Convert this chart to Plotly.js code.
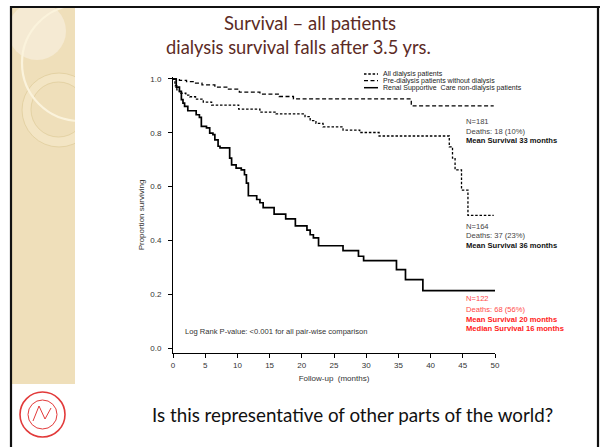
<!DOCTYPE html>
<html>
<head>
<meta charset="utf-8">
<script src="https://cdn.plot.ly/plotly-3.0.1.min.js"></script>
<style>
html,body{margin:0;padding:0;background:#fff;}
#chart{width:600px;height:447px;}
</style>
</head>
<body>
<div id="chart"></div>
<script>
// ---- data (Kaplan–Meier step curves) ----
const seriesNames = ["All dialysis patients", "Pre-dialysis patients without dialysis", "Renal Supportive  Care non-dialysis patients"];

// All dialysis patients (short dashes)
const tAll = [0, 0.3, 0.6, 1.0, 2.0, 2.6, 3.5, 4.7, 6.0, 10.2, 13.5, 16.0, 20.5, 21.3, 22.2, 23.3, 26.4, 29.0, 32.0, 42.9, 43.4, 43.8, 44.8, 45.8, 49.8];
const sAll = [1.0, 0.975, 0.96, 0.947, 0.94, 0.934, 0.925, 0.914, 0.903, 0.888, 0.877, 0.87, 0.86, 0.845, 0.835, 0.822, 0.81, 0.801, 0.788, 0.748, 0.706, 0.662, 0.587, 0.493, 0.493];

// Pre-dialysis patients without dialysis (long dashes)
const tPre = [0, 1.0, 2.1, 3.5, 4.5, 6.5, 8.5, 10.3, 13.5, 16.5, 18.7, 37.0, 49.8];
const sPre = [1.0, 0.995, 0.99, 0.985, 0.978, 0.97, 0.962, 0.951, 0.944, 0.935, 0.926, 0.9, 0.9];

// Renal Supportive Care non-dialysis patients (solid)
const tRsc = [0, 0.5, 1.0, 1.3, 1.55, 1.8, 2.3, 3.6, 4.1, 4.4, 5.2, 5.7, 6.2, 6.5, 7.0, 7.3, 8.8, 9.1, 9.8, 10.6, 11.1, 11.4, 11.7, 13.0, 13.5, 14.0, 15.7, 17.5, 19.0, 20.8, 21.3, 21.8, 22.6, 26.4, 28.8, 29.6, 34.7, 36.1, 38.8, 50.0];
const sRsc = [1.0, 0.97, 0.954, 0.923, 0.91, 0.898, 0.882, 0.867, 0.857, 0.824, 0.818, 0.799, 0.793, 0.774, 0.75, 0.744, 0.706, 0.681, 0.669, 0.662, 0.644, 0.613, 0.566, 0.552, 0.54, 0.522, 0.498, 0.48, 0.454, 0.438, 0.421, 0.409, 0.38, 0.362, 0.341, 0.325, 0.291, 0.254, 0.213, 0.213];

const xTicks = [0, 5, 10, 15, 20, 25, 30, 35, 40, 45, 50];
const yTicks = [0.0, 0.2, 0.4, 0.6, 0.8, 1.0];
const yTickText = ["0.0", "0.2", "0.4", "0.6", "0.8", "1.0"];

const groupNotes = [
  ["N=181", "Deaths: 18 (10%)", "<b>Mean Survival 33 months</b>"],
  ["N=164", "Deaths: 37 (23%)", "<b>Mean Survival 36 months</b>"],
  ["N=122", "Deaths: 68 (56%)", "<b>Mean Survival 20 months</b>", "<b>Median Survival 16 months</b>"]
];
const logRankText = "Log Rank P-value: <0.001 for all pair-wise comparison";
const titleLines = ["Survival \u2013 all patients", "dialysis survival falls after 3.5 yrs."];
const footerText = "Is this representative of other parts of the world?";

// ---- layout helpers (pixel -> paper) ----
const W = 600, H = 447;
const M = {l: 173, r: 105, t: 77, b: 94};
const PW = W - M.l - M.r, PH = H - M.t - M.b;
const X = px => (px - M.l) / PW;
const Y = py => (H - M.b - py) / PH;

const FONT = "Liberation Sans, Arial, sans-serif";

const traces = [
  {x: tPre, y: sPre, name: seriesNames[1], type: "scatter", mode: "lines",
   line: {shape: "hv", color: "#000", width: 1.3, dash: "4px,2.5px"}, showlegend: false},
  {x: tAll, y: sAll, name: seriesNames[0], type: "scatter", mode: "lines",
   line: {shape: "hv", color: "#000", width: 1.3, dash: "2.5px,1.8px"}, showlegend: false},
  {x: tRsc, y: sRsc, name: seriesNames[2], type: "scatter", mode: "lines",
   line: {shape: "hv", color: "#000", width: 1.7}, showlegend: false}
];

const shapes = [];
// slide decoration: beige strip
shapes.push({type: "rect", xref: "paper", yref: "paper", x0: X(12), x1: X(75), y0: Y(384), y1: Y(8),
  fillcolor: "#efdfba", line: {width: 0}, layer: "below"});
// pale patch top-left
shapes.push({type: "circle", xref: "paper", yref: "paper", x0: X(8), x1: X(66), y0: Y(60), y1: Y(2),
  fillcolor: "#f5ead3", line: {width: 0}, layer: "below"});
// ring
shapes.push({type: "circle", xref: "paper", yref: "paper", x0: X(22), x1: X(96), y0: Y(147), y1: Y(73),
  fillcolor: "#f3e5c4", line: {color: "#e4d2a4", width: 1}, layer: "below"});
shapes.push({type: "circle", xref: "paper", yref: "paper", x0: X(31), x1: X(86), y0: Y(137), y1: Y(82),
  fillcolor: "#efdfba", line: {color: "#e4d2a4", width: 1}, layer: "below"});
// big cream arc (left half of a circle)
(function(){
  const cx = 80, cy = 63, r = 58, k = 0.5523 * r;
  const p = (a, b) => X(a) + "," + Y(b);
  const path = "M" + p(cx, cy - r) + " C" + p(cx - k, cy - r) + " " + p(cx - r, cy - k) + " " + p(cx - r, cy) +
               " C" + p(cx - r, cy + k) + " " + p(cx - k, cy + r) + " " + p(cx, cy + r);
  shapes.push({type: "path", xref: "paper", yref: "paper", path: path, line: {color: "#fbf3dc", width: 2.2}, layer: "below"});
})();
// white cover to clip decorations at strip edge
shapes.push({type: "rect", xref: "paper", yref: "paper", x0: X(75), x1: X(140), y0: Y(384), y1: Y(0),
  fillcolor: "#ffffff", line: {width: 0}, layer: "below"});
shapes.push({type: "rect", xref: "paper", yref: "paper", x0: X(0), x1: X(10), y0: Y(447), y1: Y(0),
  fillcolor: "#ffffff", line: {width: 0}, layer: "below"});
shapes.push({type: "rect", xref: "paper", yref: "paper", x0: X(0), x1: X(600), y0: Y(7), y1: Y(0),
  fillcolor: "#ffffff", line: {width: 0}, layer: "below"});
// frame
shapes.push({type: "line", xref: "paper", yref: "paper", x0: X(10), x1: X(600), y0: Y(7), y1: Y(7), line: {color: "#111", width: 2.2}});
shapes.push({type: "line", xref: "paper", yref: "paper", x0: X(11), x1: X(11), y0: Y(6), y1: Y(447), line: {color: "#111", width: 2.2}});
shapes.push({type: "line", xref: "paper", yref: "paper", x0: X(598), x1: X(598), y0: Y(6), y1: Y(447), line: {color: "#111", width: 2.2}});
// logo
shapes.push({type: "circle", xref: "paper", yref: "paper", x0: X(20), x1: X(65), y0: Y(437), y1: Y(392),
  fillcolor: "#fff", line: {color: "#e23a3a", width: 1.6}});
shapes.push({type: "circle", xref: "paper", yref: "paper", x0: X(28), x1: X(57), y0: Y(429), y1: Y(400),
  fillcolor: "#fff", line: {color: "#e23a3a", width: 1}});
shapes.push({type: "path", xref: "paper", yref: "paper",
  path: "M" + X(33) + "," + Y(421) + " L" + X(39) + "," + Y(406) + " L" + X(45) + "," + Y(419) + " L" + X(51) + "," + Y(408),
  line: {color: "#e23a3a", width: 1}});

// custom legend samples
const legY = [74, 80.7, 87.7];
const legDash = ["2.5px,1.8px", "4px,2.5px", "solid"];
for (let i = 0; i < 3; i++) {
  shapes.push({type: "line", xref: "paper", yref: "paper", x0: X(364), x1: X(378), y0: Y(legY[i]), y1: Y(legY[i]),
    line: {color: "#000", width: i === 2 ? 1.5 : 1.3, dash: legDash[i]}});
}

const annotations = [];
for (let i = 0; i < 3; i++) {
  annotations.push({xref: "paper", yref: "paper", x: X(381), y: Y(legY[i]), xanchor: "left", yanchor: "middle",
    text: seriesNames[i], showarrow: false, font: {family: FONT, size: 7, color: "#222"}});
}
const noteY = [[121, 131, 140], [226, 235, 245], [298, 309, 319, 328]];
const noteColors = [["#444", "#444", "#111"], ["#444", "#444", "#111"], ["#ff4a4a", "#ff4a4a", "#ff1a1a", "#ff1a1a"]];
for (let g = 0; g < 3; g++) {
  for (let j = 0; j < groupNotes[g].length; j++) {
    annotations.push({xref: "paper", yref: "paper", x: X(464), y: Y(noteY[g][j]), xanchor: "left", yanchor: "middle",
      text: groupNotes[g][j], showarrow: false, font: {family: FONT, size: 7.6, color: noteColors[g][j]}});
  }
}
annotations.push({xref: "paper", yref: "paper", x: X(183), y: Y(331), xanchor: "left", yanchor: "middle",
  text: logRankText, showarrow: false, font: {family: FONT, size: 7.6, color: "#333"}});
// slide title (two lines)
annotations.push({xref: "paper", yref: "paper", x: X(310), y: Y(23), xanchor: "center", yanchor: "middle",
  text: titleLines[0], showarrow: false, font: {family: "Lato, sans-serif", size: 18.5, color: "#5c2b25"}});
annotations.push({xref: "paper", yref: "paper", x: X(298), y: Y(47), xanchor: "center", yanchor: "middle",
  text: titleLines[1], showarrow: false, font: {family: "Lato, sans-serif", size: 18.3, color: "#5c2b25"}});
// footer question
annotations.push({xref: "paper", yref: "paper", x: X(352), y: Y(414), xanchor: "center", yanchor: "middle",
  text: footerText, showarrow: false, font: {family: "Lato, sans-serif", size: 18.8, color: "#111"}});

const layout = {
  width: W, height: H,
  margin: M,
  paper_bgcolor: "#fff", plot_bgcolor: "rgba(0,0,0,0)",
  showlegend: false,
  xaxis: {range: [0, 50], tickmode: "array", tickvals: xTicks, ticks: "outside", ticklen: 4, tickcolor: "#000",
    showline: true, linecolor: "#000", linewidth: 1, showgrid: false, zeroline: false,
    tickfont: {family: FONT, size: 8, color: "#333"},
    title: {text: "Follow-up  (months)", font: {family: FONT, size: 8, color: "#333"}, standoff: 6}, automargin: false},
  yaxis: {range: [-0.0186, 1.0074], tickmode: "array", tickvals: yTicks, ticktext: yTickText, ticks: "outside", ticklen: 4,
    tickcolor: "#000", showline: true, linecolor: "#000", linewidth: 1, showgrid: false, zeroline: false,
    tickfont: {family: FONT, size: 8, color: "#333"}, ticklabelstandoff: 5,
    title: {text: "Proportion surviving", font: {family: FONT, size: 8, color: "#333"}, standoff: 4}, automargin: false},
  shapes: shapes,
  annotations: annotations
};

Plotly.newPlot("chart", traces, layout, {staticPlot: true, displayModeBar: false});
</script>
</body>
</html>
